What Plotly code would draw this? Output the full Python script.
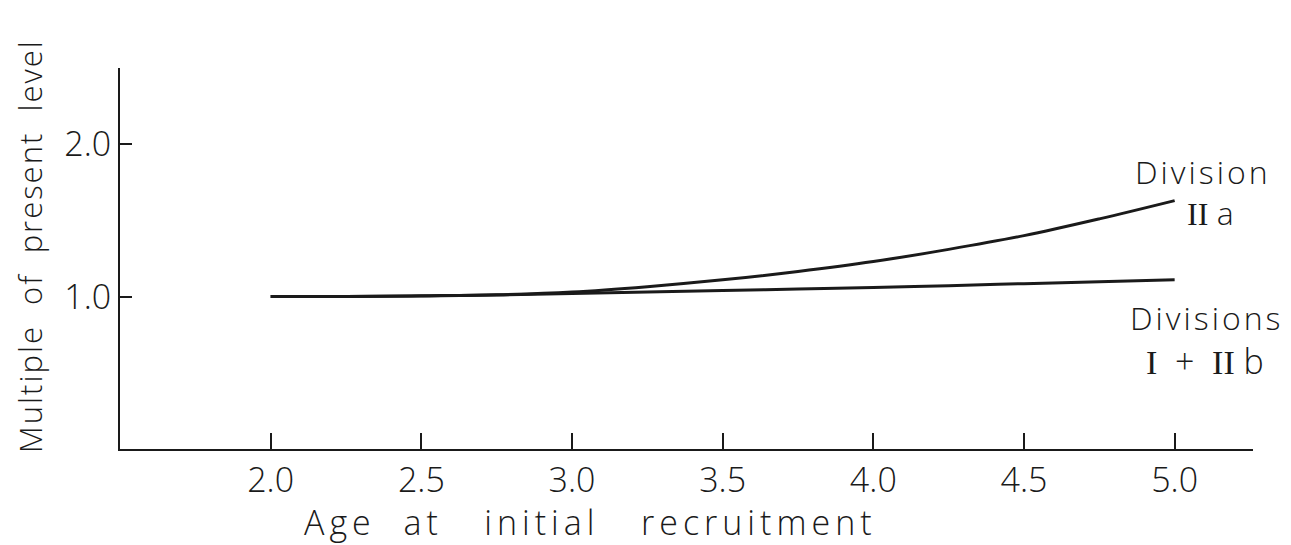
import plotly.graph_objects as go

# Data
age = [2.0, 2.25, 2.5, 2.75, 3.0, 3.25, 3.5, 3.75, 4.0, 4.25, 4.5, 4.75, 5.0]
div_IIa = [1.00, 1.00, 1.005, 1.012, 1.03, 1.065, 1.11, 1.165, 1.23, 1.31, 1.40, 1.51, 1.63]
div_I_IIb = [1.00, 1.00, 1.004, 1.01, 1.02, 1.03, 1.04, 1.05, 1.06, 1.072, 1.085, 1.098, 1.11]

x_ticks = [2.0, 2.5, 3.0, 3.5, 4.0, 4.5, 5.0]
x_tick_labels = ["2.0", "2.5", "3.0", "3.5", "4.0", "4.5", "5.0"]
y_ticks = [1.0, 2.0]
y_tick_labels = ["1.0", "2.0"]

FONT = "Open Sans, Lato, DejaVu Sans, sans-serif"
INK = "#1a1a1a"

fig = go.Figure()
fig.add_trace(go.Scatter(x=age, y=div_IIa, mode="lines", line=dict(color=INK, width=3, shape="spline"),
                         showlegend=False, hoverinfo="skip"))
fig.add_trace(go.Scatter(x=age, y=div_I_IIb, mode="lines", line=dict(color=INK, width=3, shape="spline"),
                         showlegend=False, hoverinfo="skip"))


def spaced(t, px):
    return "<span style='letter-spacing:%dpx'>%s</span>" % (px, t)


serif = "<span style='font-family:Liberation Serif, DejaVu Serif, serif'>"
ann_font = dict(family=FONT, size=32, color=INK, weight=300)
annotations = [
    dict(x=5.095, y=1.82, text=spaced("Division", 3), showarrow=False, xref="x", yref="y", font=ann_font),
    dict(x=5.12, y=1.55, text=serif + "II</span>\u00a0a", showarrow=False, xref="x", yref="y", font=ann_font),
    dict(x=5.105, y=0.86, text=spaced("Divisions", 3), showarrow=False, xref="x", yref="y", font=ann_font),
    dict(x=5.1, y=0.58, text=serif + "I</span>\u00a0\u00a0+\u00a0\u00a0" + serif + "II</span>\u00a0b",
         showarrow=False, xref="x", yref="y", font=dict(family=FONT, size=34, color=INK, weight=300)),
    dict(x=(30 - 120) / 1133, y=(449 - 246) / 381, xref="paper", yref="paper", textangle=-90, showarrow=False,
         xanchor="center", yanchor="middle", borderpad=0,
         text=spaced("Multiple\u00a0\u00a0of\u00a0\u00a0present\u00a0\u00a0level", 2),
         font=dict(family=FONT, size=31, color=INK, weight=300)),
    dict(x=(590 - 120) / 1133, y=(449 - 522) / 381, xref="paper", yref="paper", showarrow=False,
         xanchor="center", yanchor="middle",
         text=spaced("Age\u00a0\u00a0at\u00a0\u00a0\u00a0initial\u00a0\u00a0\u00a0recruitment", 5),
         font=dict(family=FONT, size=34, color=INK, weight=300)),
]

fig.update_layout(
    width=1291, height=545,
    margin=dict(l=112, r=46, t=60, b=104),
    paper_bgcolor="white", plot_bgcolor="white",
    annotations=annotations,
    xaxis=dict(range=[1.5, 5.26], showgrid=False, zeroline=False, showline=True, linecolor=INK, linewidth=2,
               ticks="inside", ticklen=16, tickwidth=1.5, tickcolor=INK, automargin=False,
               tickvals=x_ticks, ticktext=x_tick_labels,
               tickfont=dict(family=FONT, size=34, color=INK, weight=300)),
    yaxis=dict(range=[0, 2.5], showgrid=False, zeroline=False, showline=True, linecolor=INK, linewidth=2,
               ticks="inside", ticklen=12, tickwidth=1.5, tickcolor=INK, automargin=False,
               tickvals=y_ticks, ticktext=y_tick_labels,
               tickfont=dict(family=FONT, size=34, color=INK, weight=300)),
)

fig.write_html("out.html")
